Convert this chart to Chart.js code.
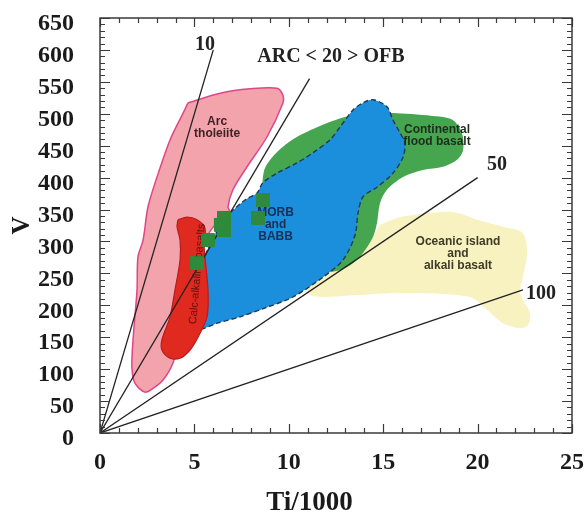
<!DOCTYPE html>
<html>
<head>
<meta charset="utf-8">
<script src="https://cdn.jsdelivr.net/npm/chart.js@4.4.1/dist/chart.umd.min.js"></script>
<style>
  html, body { margin: 0; padding: 0; background: #fff; }
</style>
</head>
<body>
<canvas id="tiv_chart" width="586" height="515"></canvas>
<script>

// fields of the Ti-V diagram, [Ti/1000, V]
const arcTholeiite = [[4.66,517],[6.36,532],[7.94,539],[9.38,540],[9.69,529],[9.69,517],[8.85,464],[7.79,417],
    [7.04,381],[6.78,354],[6.89,345],[6.09,326],[5.30,287],[4.50,208],[4.13,146],[3.87,110],[3.34,83],[2.81,70],
    [2.38,64],[1.85,78],[1.69,103],[1.75,146],[1.96,224],[2.01,276],[2.28,302],[2.54,354],[3.02,401],[3.71,459],
    [4.40,501]];
const calcAlkaline = [[4.13,334],[4.61,338],[5.14,334],[5.56,321],[5.51,294],[5.72,224],[5.67,182],[5.19,150],
    [4.77,130],[4.24,117],[3.71,117],[3.28,130],[3.28,146],[3.71,182],[3.97,224],[4.24,271],[4.24,302],[4.08,323]];
const morbBabb = [[6.89,345],[7.68,365],[8.32,376],[8.63,392],[9.38,407],[10.43,423],[11.28,439],[12.18,459],
    [12.71,479],[13.40,506],[13.93,517],[14.46,522],[15.20,511],[15.52,490],[15.89,470],[16.15,454],[16.05,432],
    [15.52,407],[14.67,385],[13.93,370],[13.67,345],[13.51,310],[12.87,271],[11.81,244],[10.22,213],[8.85,197],
    [7.42,182],[6.20,172],[5.30,164],[5.19,193],[5.30,224],[5.56,276],[6.09,310],[6.62,334]];
const floodBasalt = [[8.58,388],[8.74,415],[9.38,440],[10.33,462],[11.65,481],[12.98,495],[14.04,500],[15.73,501],
    [17.85,496],[18.70,490],[19.17,470],[19.23,443],[18.91,428],[18.17,417],[17.11,412],[16.05,401],[15.20,381],
    [14.83,360],[14.67,329],[14.46,307],[13.93,282],[13.40,266],[12.71,255],[11.92,252],[11.12,255],[10.0,300],
    [9.0,350]];
const oceanIsland = [[14.83,326],[15.89,338],[18.01,346],[18.91,345],[19.97,334],[21.35,323],[22.40,313],
    [22.62,282],[22.40,244],[22.25,224],[22.40,208],[22.78,188],[22.67,169],[22.25,164],[21.35,172],[20.50,193],
    [19.76,211],[18.91,216],[17.48,219],[15.36,219],[13.61,216],[11.81,213],[11.12,216],[10.96,229],[11.49,251],
    [12.18,266],[13.61,287],[14.46,307]];

// Ti/V ratio lines from the origin: ratio and end point
const ratios = [10, 20, 50, 100];
const ratioEnds = [[6.0,600],[11.1,555],[20.0,400],[22.4,224]];

// samples
const sampleTi = [8.63, 8.37, 6.57, 6.57, 6.40, 5.72, 5.14];
const sampleV = [365, 337, 337, 318, 326, 302, 266];

const serif = '"Liberation Serif", "Times New Roman", serif';
const sans = '"Liberation Sans", Arial, sans-serif';

function pts(arr) {
    let out = arr.map(function (p) { return {x: p[0], y: p[1]}; });
    out.push({x: arr[0][0], y: arr[0][1]});
    return out;
}

function field(label, arr, bg, border, order, extra) {
    return Object.assign({
        label: label,
        data: pts(arr),
        backgroundColor: bg,
        borderColor: border,
        borderWidth: 1.2,
        fill: 'shape',
        tension: 0.3,
        pointRadius: 0,
        order: order
    }, extra || {});
}

let datasets = [];
datasets.push({
    label: 'samples',
    data: sampleTi.map(function (t, i) { return {x: t, y: sampleV[i]}; }),
    showLine: false,
    pointStyle: 'rect',
    pointRadius: 9,
    backgroundColor: '#2f8a3c',
    borderColor: '#2f8a3c',
    order: 0
});
ratios.forEach(function (r, i) {
    datasets.push({
        label: 'Ti/V = ' + r,
        data: [{x: 0, y: 0}, {x: ratioEnds[i][0], y: ratioEnds[i][1]}],
        borderColor: '#222',
        borderWidth: 1.3,
        pointRadius: 0,
        fill: false,
        order: 1
    });
});
datasets.push(field('Calc-alkaline basalts', calcAlkaline, '#e02a1f', '#b71c1c', 2));
datasets.push(field('Arc tholeiite', arcTholeiite, '#f2a3ab', '#e0458a', 3, {borderWidth: 1.5}));
datasets.push(field('MORB and BABB', morbBabb, '#1b8fdc', '#1d3a55', 4, {borderDash: [5, 3], borderWidth: 1.4}));
datasets.push(field('Continental flood basalt', floodBasalt, '#46a650', 'rgba(0,0,0,0)', 5, {borderWidth: 0}));
datasets.push(field('Oceanic island and alkali basalt', oceanIsland, '#f7f2c0', 'rgba(0,0,0,0)', 6, {borderWidth: 0}));

// text on the plot, positions in data units
const fieldLabels = [
    {lines: ['Arc', 'tholeiite'], x: 6.2, y: 487, color: '#3c2424'},
    {lines: ['MORB', 'and', 'BABB'], x: 9.3, y: 345, color: '#1b2f55'},
    {lines: ['Continental', 'flood basalt'], x: 17.85, y: 475, color: '#1f2b1f'},
    {lines: ['Oceanic island', 'and', 'alkali basalt'], x: 18.96, y: 299, color: '#3f3b28'}
];
const lineLabels = [
    {text: '10', x: 5.56, y: 608},
    {text: 'ARC < 20 > OFB', x: 12.23, y: 589},
    {text: '50', x: 21.03, y: 420},
    {text: '100', x: 23.36, y: 218}
];

const frame_plugin = {
    id: 'frame',
    afterDatasetsDraw(chart) {
        const ctx = chart.ctx;
        const a = chart.chartArea;
        const xs = chart.scales.x, ys = chart.scales.y;
        ctx.save();

        // field names
        ctx.textAlign = 'center';
        ctx.textBaseline = 'middle';
        ctx.font = 'bold 12px ' + sans;
        fieldLabels.forEach(function (l) {
            ctx.fillStyle = l.color;
            const px = xs.getPixelForValue(l.x);
            const py = ys.getPixelForValue(l.y);
            l.lines.forEach(function (t, i) { ctx.fillText(t, px, py + i * 12); });
        });
        ctx.save();
        ctx.translate(xs.getPixelForValue(5.16), ys.getPixelForValue(249));
        ctx.rotate(-85 * Math.PI / 180);
        ctx.font = '11px ' + sans;
        ctx.fillStyle = '#5a1212';
        ctx.fillText('Calc-alkaline basalts', 0, 0);
        ctx.restore();

        // redraw samples over the labels
        const meta = chart.getDatasetMeta(0);
        meta.data.forEach(function (p) { p.draw(ctx, a); });

        ctx.font = 'bold 20px ' + serif;
        ctx.fillStyle = '#222';
        lineLabels.forEach(function (l) {
            ctx.fillText(l.text, xs.getPixelForValue(l.x), ys.getPixelForValue(l.y));
        });

        // box and inward ticks
        ctx.strokeStyle = '#3a3a3a';
        ctx.lineWidth = 1.5;
        ctx.strokeRect(a.left, a.top, a.right - a.left, a.bottom - a.top);
        ctx.lineWidth = 1.2;
        ctx.beginPath();
        for (let v = 0; v <= 25; v++) {
            const px = Math.round(xs.getPixelForValue(v)) + 0.5;
            const len = v % 5 === 0 ? 9 : 5;
            ctx.moveTo(px, a.bottom); ctx.lineTo(px, a.bottom - len);
            ctx.moveTo(px, a.top); ctx.lineTo(px, a.top + len);
        }
        for (let v = 0; v <= 650; v += 10) {
            const py = Math.round(ys.getPixelForValue(v)) + 0.5;
            const len = v % 50 === 0 ? 10 : 5;
            ctx.moveTo(a.left, py); ctx.lineTo(a.left + len, py);
            ctx.moveTo(a.right, py); ctx.lineTo(a.right - len, py);
        }
        ctx.stroke();

        // x axis title
        ctx.font = 'bold 27px ' + serif;
        ctx.fillStyle = '#1a1a1a';
        ctx.fillText('Ti/1000', xs.getPixelForValue(11.1), chart.height - 12);
        ctx.restore();
    }
};

const tickFont = {family: serif, weight: 'bold', size: 24};

new Chart(document.getElementById('tiv_chart'), {
    type: 'line',
    data: {datasets: datasets},
    options: {
        responsive: false,
        animation: false,
        layout: {padding: {left: 0, right: 14, top: 18, bottom: 0}},
        plugins: {legend: {display: false}, tooltip: {enabled: false}},
        scales: {
            x: {
                type: 'linear', min: 0, max: 25,
                ticks: {stepSize: 5, padding: 7, color: '#1a1a1a', font: tickFont},
                grid: {display: false}, border: {display: false},
                afterFit: function (s) { s.height = 82; s.paddingLeft = 0; s.paddingRight = 0; }
            },
            y: {
                type: 'linear', min: 0, max: 650,
                ticks: {stepSize: 50, autoSkip: false, padding: 18, labelOffset: 6, color: '#1a1a1a', font: tickFont},
                title: {display: true, text: 'V', color: '#1a1a1a', font: {family: serif, weight: 'bold', size: 25}, padding: {top: 8}},
                grid: {display: false}, border: {display: false},
                afterFit: function (s) { s.width = 100; s.paddingTop = 0; s.paddingBottom = 0; }
            }
        }
    },
    plugins: [frame_plugin]
});
</script>
</body>
</html>
